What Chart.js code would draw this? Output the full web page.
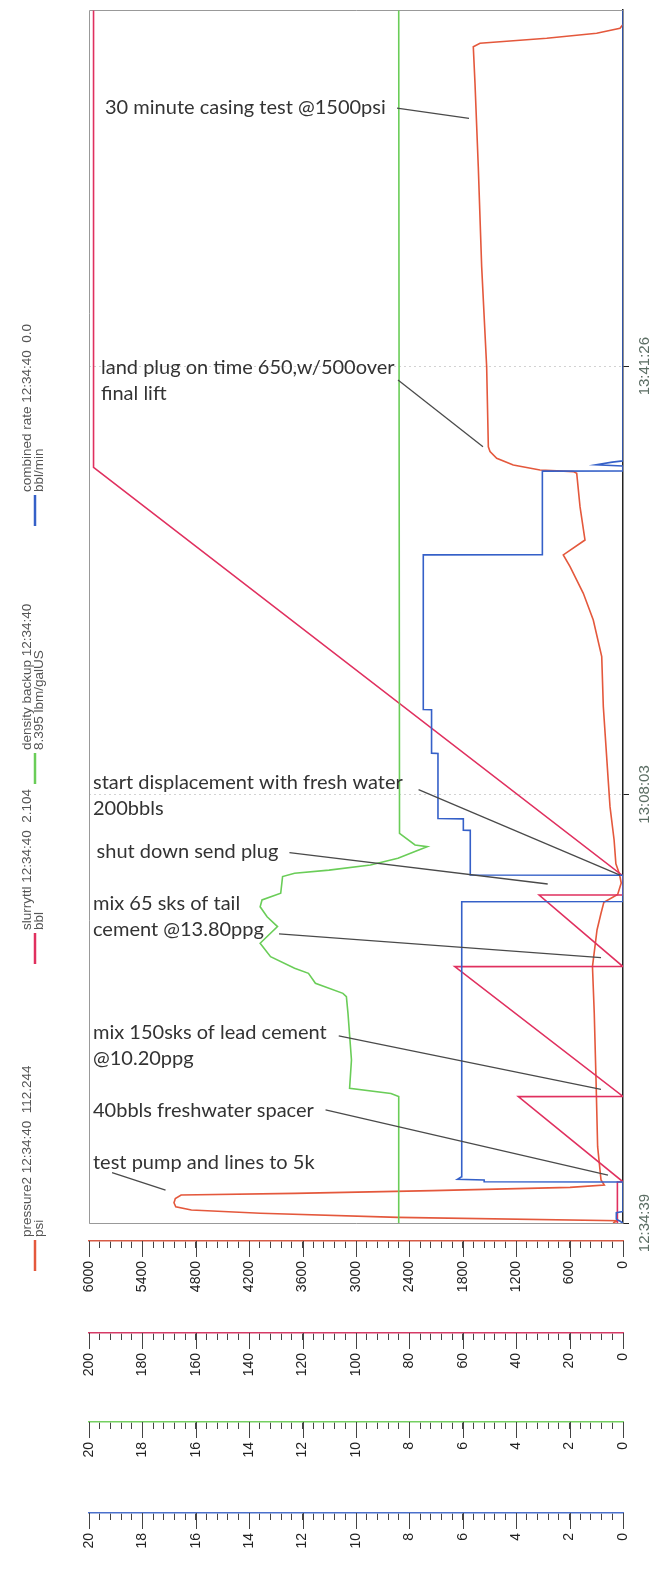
<!DOCTYPE html>
<html>
<head>
<meta charset="utf-8">
<script src="https://cdn.jsdelivr.net/npm/chart.js@4.4.1/dist/chart.umd.min.js"></script>
<style>
  html, body { margin: 0; padding: 0; background: #fff; }
  #wrap { width: 658px; height: 1570px; position: relative; }
</style>
</head>
<body>
<div id="wrap"><canvas id="jobChart"></canvas></div>
<script>
// time is minutes after 12:34:39
const timeTickMin = [0, 33.4, 66.783];
const timeTickLabels = ["12:34:39", "13:08:03", "13:41:26"];
const timeMax = 94.54;

const pressureMin = [0, 0.18, 0.44, 0.76, 1.01, 1.27, 1.58, 1.9, 2.18, 2.31, 2.52, 2.78, 2.96, 3.35, 5.95, 11.15, 16.34, 19.98, 22.84, 24.14, 25.0, 25.6, 26.5, 27.2, 28.0, 29.85, 32.45, 34.5, 40.24, 44.14, 47.0, 49.08, 51.15, 52.07, 53.23, 55.83, 58.43, 58.56, 58.69, 59.08, 59.6, 60.12, 60.5, 66.74, 74.54, 82.33, 88.83, 91.68, 91.95, 92.34, 92.73, 93.12, 93.4];
const pressurePsi = [112, 60, 2530, 4075, 4850, 5025, 5045, 5030, 4965, 3690, 2140, 595, 210, 247, 285, 303, 323, 343, 292, 247, 215, 60, 20, 40, 80, 100, 146, 166, 221, 239, 334, 446, 595, 671, 427, 483, 520, 558, 933, 1233, 1419, 1494, 1513, 1532, 1588, 1626, 1663, 1682, 1607, 857, 296, 34, 0];

const slurryMin = [0, 3.2, 3.21, 9.85, 9.86, 19.98, 19.99, 25.56, 25.57, 27.05, 58.9, 94.5];
const slurryBbl = [2.1, 2.1, 0, 39.2, 0, 63.0, 0, 31.4, 0, 0, 198.3, 198.3];

const densityMin = [0, 9.85, 10.1, 10.5, 12.7, 16.34, 17.64, 17.9, 18.68, 19.46, 19.85, 20.76, 21.8, 23.1, 23.87, 24.65, 25.18, 25.7, 27.0, 27.26, 27.5, 27.9, 28.43, 29.07, 29.33, 29.46, 30.37, 94.5];
const densityPpg = [8.4, 8.4, 8.69, 10.24, 10.17, 10.3, 10.36, 10.49, 11.52, 11.78, 12.3, 13.2, 13.59, 12.94, 13.33, 13.59, 13.52, 12.82, 12.75, 12.3, 11.01, 9.46, 8.43, 7.65, 7.33, 7.79, 8.37, 8.4];

const rateMin = [0, 0.3, 0.8, 0.9, 3.2, 3.22, 3.35, 3.4, 3.6, 25.04, 25.06, 27.1, 27.12, 30.6, 30.62, 31.5, 31.52, 36.6, 36.62, 40.0, 40.02, 52.07, 52.09, 58.6, 58.62, 59.0, 59.1, 59.3, 59.4, 94.5];
const rateBpm = [0, 0.25, 0.25, 0, 0, 5.2, 5.2, 6.2, 6.05, 6.04, 0, 0, 5.72, 5.72, 5.98, 5.98, 6.93, 6.93, 7.17, 7.17, 7.48, 7.48, 3.02, 3.02, 0, 0, 1.0, 0.4, 0, 0];

// notes: [minute, psi] for text start, leader start and leader end
const noteLines = [
  ["30 minute casing test @1500psi"],
  ["land plug on time 650,w/500over", "final lift"],
  ["start displacement with fresh water", "200bbls"],
  ["shut down send plug"],
  ["mix 65 sks of tail", "cement @13.80ppg"],
  ["mix 150sks of lead cement", "@10.20ppg"],
  ["40bbls freshwater spacer"],
  ["test pump and lines to 5k"]
];
const noteTextAt = [[86.9, 5820], [66.64, 5865], [34.3, 5955], [28.94, 5915], [24.92, 5955], [14.86, 5955], [8.73, 5955], [4.7, 5955]];
const noteFrom = [[86.9, 2539], [65.7, 2528], [33.77, 2297], [28.86, 3748], [22.53, 3865], [14.58, 3194], [8.81, 3342], [3.92, 5741]];
const noteTo = [[86.1, 1730], [60.5, 1573], [27.12, 34], [26.42, 846], [20.68, 247], [10.42, 247], [3.74, 169], [2.57, 5140]];

const pressureColor = "#e4583c";
const slurryColor = "#e0305f";
const densityColor = "#6acd58";
const rateColor = "#3560c8";

const legendItems = [
  { color: pressureColor, lines: ["pressure2 12:34:40  112.244", "psi"], start: 1237 },
  { color: slurryColor, lines: ["slurryttl 12:34:40  2.104", "bbl"], start: 930 },
  { color: densityColor, lines: ["density backup 12:34:40", "8.395 lbm/galUS"], start: 750 },
  { color: rateColor, lines: ["combined rate 12:34:40  0.0", "bbl/min"], start: 492 }
];

const toPoints = (mins, vals) => mins.map((t, i) => ({ x: vals[i], y: t }));

function trace(label, color, axis, mins, vals) {
  return {
    label: label,
    data: toPoints(mins, vals),
    xAxisID: axis,
    yAxisID: "yTime",
    borderColor: color,
    borderWidth: 1.6,
    pointRadius: 0,
    showLine: true,
    fill: false,
    tension: 0
  };
}

const isMajor = (v, step) => Math.abs(v / step - Math.round(v / step)) < 1e-6;
const majorStep = { xPress: 600, xSlurry: 20, xDens: 2, xRate: 2 };

function valueAxis(id, color, max, minor, weight, height) {
  return {
    type: "linear",
    position: "bottom",
    reverse: true,
    min: 0,
    max: max,
    weight: weight,
    border: { display: true, color: color, width: 1.5 },
    grid: { drawOnChartArea: false, drawTicks: true, tickLength: 7, tickColor: "#444", tickWidth: 1 },
    ticks: {
      stepSize: minor,
      autoSkip: false,
      minRotation: 90,
      maxRotation: 90,
      padding: 13,
      color: "#222",
      font: { family: "Liberation Sans", size: 14 },
      callback: v => isMajor(v, majorStep[id]) ? String(v) : ""
    },
    afterFit: s => { s.height = height; s.paddingLeft = 0; s.paddingRight = 0; }
  };
}

const framePlugin = {
  id: "frame",
  beforeDatasetsDraw(chart) {
    const { ctx, chartArea: a } = chart;
    ctx.save();
    ctx.strokeStyle = "#999";
    ctx.lineWidth = 1;
    ctx.beginPath();
    ctx.moveTo(a.right, a.top + 0.5);
    ctx.lineTo(a.left + 0.5, a.top + 0.5);
    ctx.lineTo(a.left + 0.5, a.bottom + 0.5);
    ctx.lineTo(a.right, a.bottom + 0.5);
    ctx.stroke();
    ctx.restore();
  }
};

const majorTickPlugin = {
  id: "majorTicks",
  afterDraw(chart) {
    const ctx = chart.ctx;
    ctx.save();
    ctx.strokeStyle = "#444";
    ctx.lineWidth = 1;
    for (const id of Object.keys(majorStep)) {
      const s = chart.scales[id];
      for (let v = 0; v <= s.max + 1e-9; v += majorStep[id]) {
        const x = Math.round(s.getPixelForValue(v)) + 0.5;
        ctx.beginPath();
        ctx.moveTo(x, s.top);
        ctx.lineTo(x, s.top + 16);
        ctx.stroke();
      }
    }
    ctx.restore();
  }
};

const legendPlugin = {
  id: "sideLegend",
  afterDraw(chart) {
    const ctx = chart.ctx;
    ctx.save();
    legendItems.forEach(item => {
      ctx.strokeStyle = item.color;
      ctx.lineWidth = 2.5;
      ctx.beginPath();
      ctx.moveTo(35, item.start + 3);
      ctx.lineTo(35, item.start + 34);
      ctx.stroke();

      ctx.save();
      ctx.translate(0, item.start);
      ctx.rotate(-Math.PI / 2);
      ctx.fillStyle = "#555";
      ctx.font = "13.5px 'Liberation Sans', Arial, sans-serif";
      ctx.textAlign = "left";
      ctx.textBaseline = "alphabetic";
      ctx.fillText(item.lines[0], 0, 31);
      ctx.fillText(item.lines[1], 0, 43);
      ctx.restore();
    });
    ctx.restore();
  }
};

const notePlugin = {
  id: "notes",
  afterDatasetsDraw(chart) {
    const { ctx, scales } = chart;
    const xs = scales.xPress, ys = scales.yTime;
    ctx.save();
    ctx.strokeStyle = "#4a4a4a";
    ctx.lineWidth = 1.3;
    noteFrom.forEach((f, i) => {
      ctx.beginPath();
      ctx.moveTo(xs.getPixelForValue(f[1]), ys.getPixelForValue(f[0]));
      ctx.lineTo(xs.getPixelForValue(noteTo[i][1]), ys.getPixelForValue(noteTo[i][0]));
      ctx.stroke();
    });
    ctx.fillStyle = "#333";
    ctx.font = "20px Lato, 'Open Sans', sans-serif";
    ctx.textAlign = "left";
    ctx.textBaseline = "middle";
    noteLines.forEach((lines, i) => {
      const x = xs.getPixelForValue(noteTextAt[i][1]);
      const y = ys.getPixelForValue(noteTextAt[i][0]);
      lines.forEach((line, k) => ctx.fillText(line, x, y + k * 26));
    });
    ctx.restore();
  }
};

const ctx = document.getElementById("jobChart").getContext("2d");
const jobChart = new Chart(ctx, {
  type: "scatter",
  data: {
    datasets: [
      trace("combined rate", rateColor, "xRate", rateMin, rateBpm),
      trace("density backup", densityColor, "xDens", densityMin, densityPpg),
      trace("slurryttl", slurryColor, "xSlurry", slurryMin, slurryBbl),
      trace("pressure2", pressureColor, "xPress", pressureMin, pressurePsi)
    ]
  },
  options: {
    responsive: true,
    maintainAspectRatio: false,
    animation: false,
    layout: { padding: { left: 89, top: 10, right: 0, bottom: 0 } },
    plugins: {
      legend: { display: false },
      tooltip: { enabled: false }
    },
    scales: {
      yTime: {
        type: "linear",
        position: "right",
        min: 0,
        max: timeMax,
        afterBuildTicks: s => { s.ticks = timeTickMin.map(v => ({ value: v })); },
        grid: { color: "#d2d2d2", lineWidth: 1, drawTicks: true, tickLength: 6, tickColor: "#222" },
        border: { display: true, color: "#222", width: 1.5, dash: [2, 3] },
        ticks: {
          autoSkip: false,
          minRotation: 90,
          maxRotation: 90,
          crossAlign: "center",
          padding: -13,
          color: "#5c6e64",
          font: { family: "Liberation Sans", size: 15 },
          callback: (v, i) => timeTickLabels[i]
        },
        afterFit: s => { s.width = 35; s.paddingTop = 0; s.paddingBottom = 0; }
      },
      xGap: {
        type: "linear",
        position: "bottom",
        min: 0,
        max: 1,
        weight: 0,
        grid: { display: false },
        ticks: { display: false },
        border: { display: false },
        afterFit: s => { s.height = 18; s.paddingLeft = 0; s.paddingRight = 0; }
      },
      xPress: valueAxis("xPress", "#d65a45", 6000, 120, 1, 92),
      xSlurry: valueAxis("xSlurry", "#d63a66", 200, 4, 2, 89),
      xDens: valueAxis("xDens", "#74d060", 20, 0.4, 3, 91),
      xRate: valueAxis("xRate", "#4a70cc", 20, 0.4, 4, 57)
    }
  },
  plugins: [framePlugin, majorTickPlugin, legendPlugin, notePlugin]
});
</script>
</body>
</html>
